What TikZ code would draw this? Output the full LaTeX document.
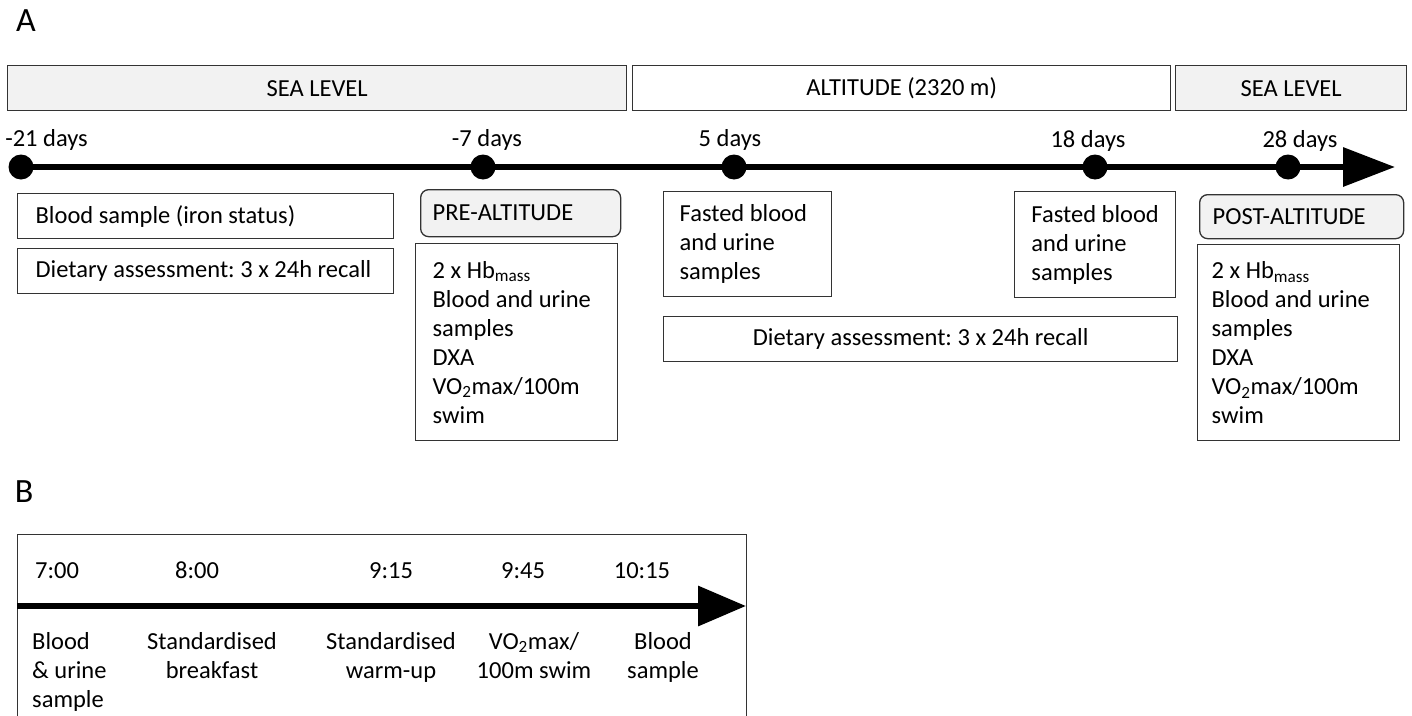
\documentclass[tikz,border=0pt]{standalone}
\usepackage{fontspec}
\setmainfont{Carlito}
\usetikzlibrary{arrows.meta}
\frenchspacing
\newcommand\myfs{\fontsize{24.5}{29}\selectfont}
\newcommand\mybig{\fontsize{34}{40}\selectfont}
\definecolor{boxgray}{HTML}{F2F2F2}
\definecolor{edge}{HTML}{333333}
\tikzset{
  box/.style={draw=edge, line width=1.3pt, inner ysep=0pt, font=\myfs, anchor=north west},
  gbox/.style={box, fill=boxgray},
  rbox/.style={box, fill=boxgray, rounded corners=8pt},
  lbl/.style={font=\myfs, inner sep=0pt},
  dot/.style={circle, fill=black, minimum size=25pt, inner sep=0pt},
  tlA/.style={line width=6.5pt, -{Triangle[length=52pt,width=38pt]}},
  tlB/.style={line width=6.5pt, -{Triangle[length=48pt,width=39pt]}},
}
\begin{document}
\begin{tikzpicture}[x=1pt,y=-1pt]
\useasboundingbox (0,0) rectangle (1412,715);

% panel letters
\node[font=\mybig, inner sep=0pt] (la) at (26,21) {A};
\node[font=\mybig, inner sep=0pt] (lb) at (24,492) {B};

% top bars
\node[gbox, minimum width=619pt, minimum height=45pt] (sl1) at (7,65) {SEA LEVEL};
\node[box, minimum width=538pt, minimum height=45pt] (alt) at (632,65) {ALTITUDE (2320 m)};
\node[gbox, minimum width=231pt, minimum height=45pt] (sl2) at (1175,65) {SEA LEVEL};

% day labels
\node[lbl, anchor=base] (t1) at (46.5,146) {-21 days};
\node[lbl, anchor=base] (t2) at (487,146) {-7 days};
\node[lbl, anchor=base] (t3) at (730,146) {5 days};
\node[lbl, anchor=base] (t4) at (1088,147) {18 days};
\node[lbl, anchor=base] (t5) at (1300,147) {28 days};

% timeline A
\coordinate (tipA) at (1395,167);
\node[dot] (d1) at (21,167) {};
\draw[tlA] (d1.center) -- (tipA);
\node[dot] (d2) at (483,167) {};
\node[dot] (d3) at (734,167) {};
\node[dot] (d4) at (1095,167) {};
\node[dot] (d5) at (1288,167) {};

% boxes under timeline A
\node[box, minimum width=376pt, minimum height=45pt, inner xsep=18pt, text width=340pt, align=flush left] (bs) at (17,193) {Blood sample (iron status)};
\node[box, minimum width=376pt, minimum height=45pt, inner xsep=18pt, text width=340pt, align=flush left] (da1) at (17,248) {Dietary assessment: 3 x 24h recall};

\node[rbox, minimum width=200pt, minimum height=47pt, inner xsep=12pt, text width=176pt, align=flush left] (pre) at (420,189) {PRE-ALTITUDE};
\node[box, minimum width=202pt, minimum height=197pt, inner xsep=17pt, text width=168pt, align=flush left] (prel) at (415,243)
  {2 x Hb\textsubscript{mass}\\Blood and urine\\samples\\DXA\\VO\textsubscript{2}max/100m\\swim};

\node[box, minimum width=168pt, minimum height=105pt, inner xsep=16pt, text width=136pt, align=flush left] (f1) at (663,191)
  {Fasted blood\\and urine\\samples};
\node[box, minimum width=161pt, minimum height=106pt, inner xsep=0pt, align=left] (f2) at (1014,191)
  {Fasted blood\\and urine\\samples};
\node[box, minimum width=514pt, minimum height=45pt] (da2) at (663,316)
  {Dietary assessment: 3 x 24h recall};

\node[rbox, minimum width=204pt, minimum height=44pt, inner xsep=13pt, text width=178pt, align=flush left] (post) at (1199,194) {POST-ALTITUDE};
\node[box, minimum width=202pt, minimum height=196pt, inner xsep=14pt, text width=174pt, align=flush left] (postl) at (1197,244)
  {2 x Hb\textsubscript{mass}\\Blood and urine\\samples\\DXA\\VO\textsubscript{2}max/100m\\swim};

% panel B
\node[box, minimum width=729pt, minimum height=200pt] (bbox) at (17,534) {};
\coordinate (bstart) at (17,606);
\coordinate (bend) at (746,606);
\draw[tlB] (bstart) -- (bend);

\node[lbl, anchor=base] (h1) at (57,578) {7:00};
\node[lbl, anchor=base] (h2) at (197,578) {8:00};
\node[lbl, anchor=base] (h3) at (391,578) {9:15};
\node[lbl, anchor=base] (h4) at (523,578) {9:45};
\node[lbl, anchor=base] (h5) at (642,578) {10:15};

\node[lbl, anchor=north west, align=left] (e1) at (32,632) {Blood\\\& urine\\sample};
\node[lbl, anchor=north, align=center] (e2) at (212,632) {Standardised\\breakfast};
\node[lbl, anchor=north, align=center] (e3) at (391,632) {Standardised\\warm-up};
\node[lbl, anchor=north, align=center] (e4) at (534,632) {VO\textsubscript{2}max/\\100m swim};
\node[lbl, anchor=north, align=center] (e5) at (663,632) {Blood\\sample};
\end{tikzpicture}
\end{document}
